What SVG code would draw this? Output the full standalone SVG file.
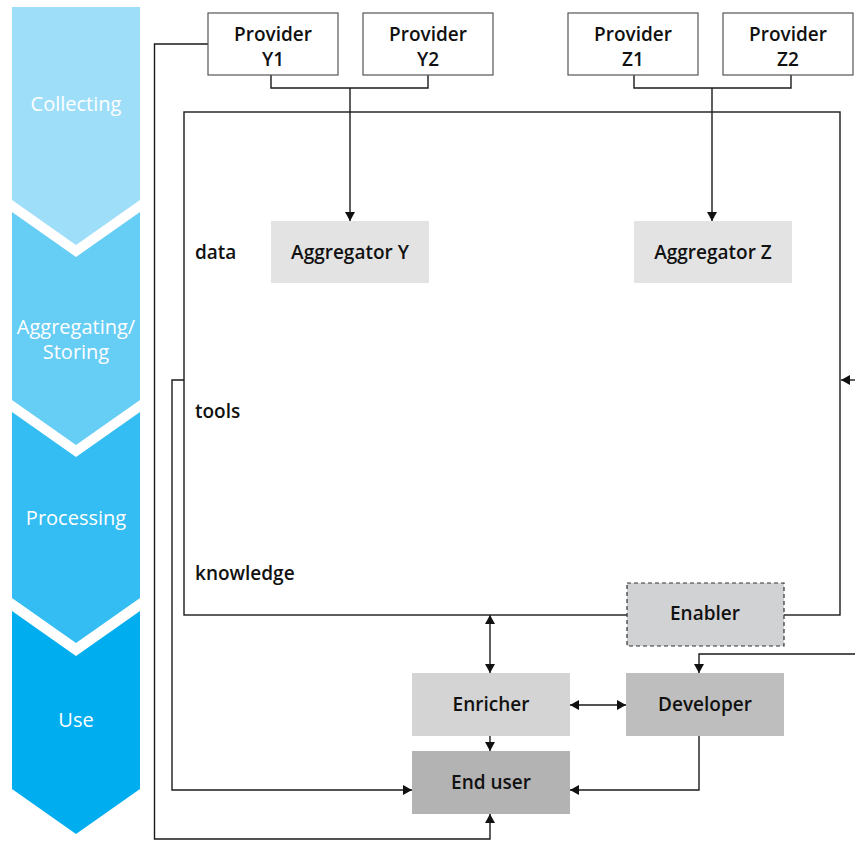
<svg xmlns="http://www.w3.org/2000/svg" width="855" height="841" viewBox="0 0 855 841">
<style>
.stage{font-family:"Open Sans","Noto Sans","Liberation Sans",sans-serif;font-size:20px;font-weight:500;fill:#ffffff;text-anchor:middle}
.t{font-family:"Open Sans","Noto Sans","Liberation Sans",sans-serif;font-size:19px;font-weight:600;fill:#111111;text-anchor:middle}
.lbl{font-family:"Open Sans","Noto Sans","Liberation Sans",sans-serif;font-size:19px;font-weight:600;fill:#111111}
.prov{fill:#ffffff;stroke:#555555;stroke-width:1.2}
.c{fill:none;stroke:#1a1a1a;stroke-width:1.4}
</style>
<defs>
<marker id="ah" markerUnits="userSpaceOnUse" markerWidth="11" markerHeight="11" refX="9" refY="5" orient="auto-start-reverse">
<path d="M0,0 L9,5 L0,10 z" fill="#111111"/>
</marker>
</defs>
<g id="stages">
<polygon points="12,7 140,7 140,200 76,245 12,200" fill="#9EDEF8"/>
<polygon points="12,212 76,257 140,212 140,400 76,445 12,400" fill="#66CDF5"/>
<polygon points="12,412 76,457 140,412 140,598 76,643 12,598" fill="#33BDF2"/>
<polygon points="12,611 76,656 140,611 140,789 76,834 12,789" fill="#00AEEF"/>
<text class="stage" x="76" y="111">Collecting</text>
<text class="stage" x="76" y="334">Aggregating/</text>
<text class="stage" x="76" y="359">Storing</text>
<text class="stage" x="76" y="525">Processing</text>
<text class="stage" x="76" y="727">Use</text>
</g>
<g id="container">
<rect x="184" y="112" width="656" height="503" fill="none" stroke="#1a1a1a" stroke-width="1.4"/>
<text class="lbl" x="195" y="259">data</text>
<text class="lbl" x="195" y="418">tools</text>
<text class="lbl" x="195" y="580">knowledge</text>
</g>
<g id="connectors">
<path class="c" d="M271,75 V88 H428 V75"/>
<path class="c" d="M350,88 V221" marker-end="url(#ah)"/>
<path class="c" d="M634,75 V88 H791 V75"/>
<path class="c" d="M712,88 V221" marker-end="url(#ah)"/>
<path class="c" d="M208,44 H154.5 V839 H490 V814" marker-end="url(#ah)"/>
<path class="c" d="M184,380 H172 V790 H412" marker-end="url(#ah)"/>
<path class="c" d="M855,380 H841" marker-end="url(#ah)"/>
<path class="c" d="M855,654 H699 V673" marker-end="url(#ah)"/>
<path class="c" d="M490,615 V673" marker-start="url(#ah)" marker-end="url(#ah)"/>
<path class="c" d="M570,705 H626" marker-start="url(#ah)" marker-end="url(#ah)"/>
<path class="c" d="M490,736 V751" marker-end="url(#ah)"/>
<path class="c" d="M699,736 V790 H570" marker-end="url(#ah)"/>
</g>
<g id="providerY1">
<rect class="prov" x="208" y="13" width="130" height="62"/>
<text class="t" x="273" y="41">Provider</text>
<text class="t" x="273" y="66">Y1</text>
</g>
<g id="providerY2">
<rect class="prov" x="363" y="13" width="130" height="62"/>
<text class="t" x="428" y="41">Provider</text>
<text class="t" x="428" y="66">Y2</text>
</g>
<g id="providerZ1">
<rect class="prov" x="568" y="13" width="130" height="62"/>
<text class="t" x="633" y="41">Provider</text>
<text class="t" x="633" y="66">Z1</text>
</g>
<g id="providerZ2">
<rect class="prov" x="723" y="13" width="130" height="62"/>
<text class="t" x="788" y="41">Provider</text>
<text class="t" x="788" y="66">Z2</text>
</g>
<g id="aggregatorY">
<rect x="271" y="221" width="158" height="62" fill="#E3E3E3"/>
<text class="t" x="350" y="259">Aggregator Y</text>
</g>
<g id="aggregatorZ">
<rect x="634" y="221" width="158" height="62" fill="#E3E3E3"/>
<text class="t" x="713" y="259">Aggregator Z</text>
</g>
<g id="enabler">
<rect x="627" y="583" width="157" height="63" fill="#D1D2D4" stroke="#333333" stroke-width="1.2" stroke-dasharray="4,3"/>
<text class="t" x="705" y="620">Enabler</text>
</g>
<g id="enricher">
<rect x="412" y="673" width="158" height="63" fill="#D4D4D4"/>
<text class="t" x="491" y="711">Enricher</text>
</g>
<g id="developer">
<rect x="626" y="673" width="158" height="63" fill="#BEBEBE"/>
<text class="t" x="705" y="711">Developer</text>
</g>
<g id="enduser">
<rect x="412" y="751" width="158" height="63" fill="#B3B3B3"/>
<text class="t" x="491" y="789">End user</text>
</g>
</svg>
